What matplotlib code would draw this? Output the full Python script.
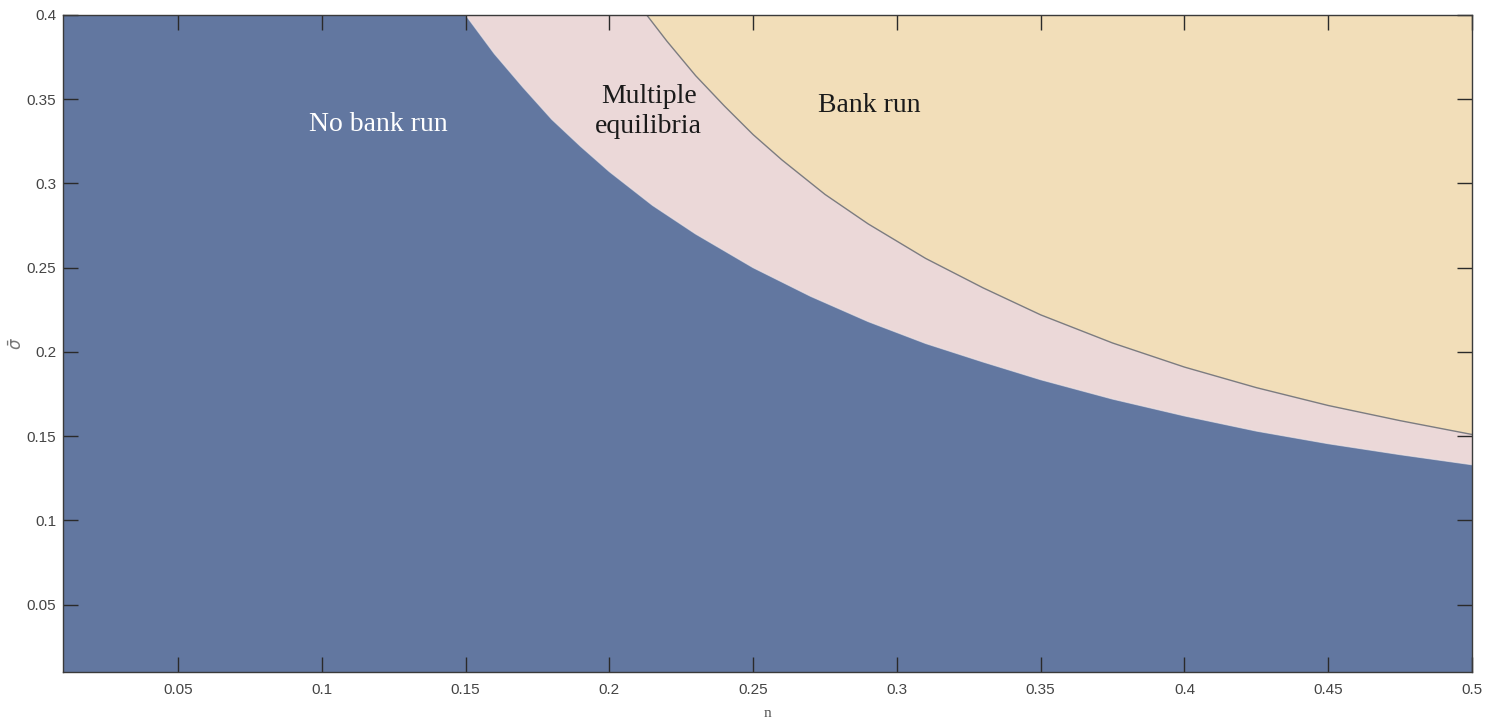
import matplotlib
matplotlib.use("Agg")
import matplotlib.pyplot as plt

# boundary between "No bank run" and "Multiple equilibria"
n_lower = [0.150, 0.160, 0.170, 0.180, 0.190, 0.200, 0.215, 0.230, 0.250,
           0.270, 0.290, 0.310, 0.330, 0.350, 0.375, 0.400, 0.425, 0.450,
           0.475, 0.500]
sig_lower = [0.400, 0.377, 0.357, 0.338, 0.322, 0.307, 0.287, 0.270, 0.250,
             0.233, 0.218, 0.205, 0.194, 0.1835, 0.172, 0.162, 0.153, 0.1455,
             0.139, 0.133]

# boundary between "Multiple equilibria" and "Bank run"
n_upper = [0.213, 0.220, 0.230, 0.240, 0.250, 0.260, 0.275, 0.290, 0.310,
           0.330, 0.350, 0.375, 0.400, 0.425, 0.450, 0.475, 0.500]
sig_upper = [0.400, 0.3845, 0.364, 0.346, 0.329, 0.314, 0.2935, 0.276, 0.2555,
             0.238, 0.222, 0.2053, 0.191, 0.1788, 0.1682, 0.1592, 0.151]

x_min, x_max = 0.01, 0.5
y_min, y_max = 0.01, 0.4
x_ticks = [0.05, 0.1, 0.15, 0.2, 0.25, 0.3, 0.35, 0.4, 0.45, 0.5]
x_tick_labels = ["0.05", "0.1", "0.15", "0.2", "0.25", "0.3", "0.35", "0.4", "0.45", "0.5"]
y_ticks = [0.05, 0.1, 0.15, 0.2, 0.25, 0.3, 0.35, 0.4]
y_tick_labels = ["0.05", "0.1", "0.15", "0.2", "0.25", "0.3", "0.35", "0.4"]

c_blue = "#6277a0"
c_pink = "#ebd8d8"
c_tan = "#f2deb9"

fig = plt.figure(figsize=(14.91, 7.21), dpi=100)
ax = fig.add_axes([63 / 1491, 1 - 672 / 721, (1472 - 63) / 1491, (672 - 15) / 721])

# Bank run region
ax.fill([x_min, x_max, x_max, x_min], [y_min, y_min, y_max, y_max],
        color=c_tan, lw=0, zorder=0.5)
# Multiple equilibria region: below upper boundary
ax.fill([x_min, x_min] + n_upper + [x_max],
        [y_min, y_max] + sig_upper + [y_min],
        color=c_pink, lw=0, zorder=0.6)
# No bank run region: below lower boundary
ax.fill([x_min, x_min] + n_lower + [x_max],
        [y_min, y_max] + sig_lower + [y_min],
        color=c_blue, lw=0, zorder=0.7)
ax.plot(n_lower, sig_lower, color="#f4ecec", lw=0.8, zorder=0.8, alpha=0.6)
ax.plot(n_upper, sig_upper, color="#7c7c80", lw=1.0, zorder=0.9)

ax.set_xlim(x_min, x_max)
ax.set_ylim(y_min, y_max)
ax.set_xticks(x_ticks)
ax.set_xticklabels(x_tick_labels)
ax.set_yticks(y_ticks)
ax.set_yticklabels(y_tick_labels)
ax.tick_params(direction="in", length=11, width=1, color="#2a2a2a",
               top=True, right=True, labelsize=11, labelcolor="#444444",
               labelfontfamily="Liberation Sans")
ax.tick_params(axis="x", pad=8)
ax.tick_params(axis="y", pad=5)
for s in ax.spines.values():
    s.set_color("#3a3a3a")
    s.set_linewidth(1.0)

ax.set_xlabel("n", fontsize=11, family="Liberation Serif", color="#555555", labelpad=7)
ax.set_ylabel(r"$\bar{\sigma}$", fontsize=12, color="#777777", labelpad=0)

ax.text(0.1196, 0.3348, "No bank run", color="white", fontsize=20,
        family="Liberation Serif", ha="center", va="center", zorder=7)
ax.text(0.2137, 0.3425, "Multiple\nequilibria", color="#1a1a1a", fontsize=20,
        family="Liberation Serif", ha="center", va="center", linespacing=1.25, zorder=7)
ax.text(0.2903, 0.346, "Bank run", color="#1a1a1a", fontsize=20,
        family="Liberation Serif", ha="center", va="center", zorder=7)

fig.savefig("out.png", dpi=100)
